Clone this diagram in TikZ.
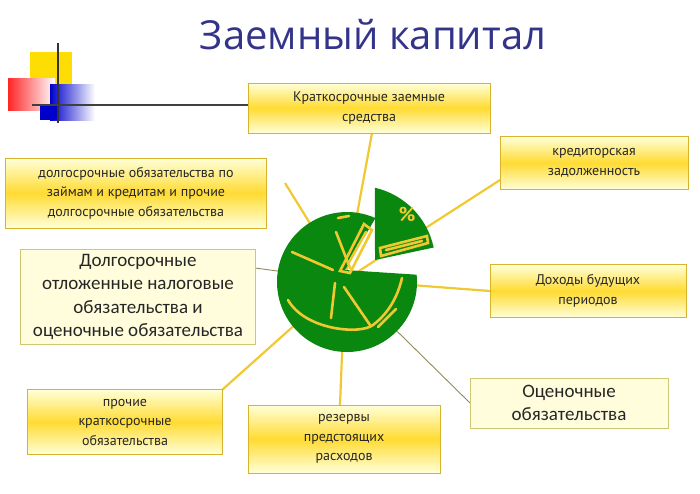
\documentclass[tikz,border=0pt]{standalone}
\usepackage{fontspec}
\setmainfont{PT Sans}
\newfontfamily\bigf{Carlito}
\newfontfamily\titlef{Open Sans}
\usetikzlibrary{shadings,calc}
\definecolor{pg}{HTML}{0A870F}
\definecolor{py}{HTML}{F0C832}
\definecolor{tb}{HTML}{33338A}
\tikzset{
 ybox/.style={draw=py!90!black, line width=1pt, top color=yellow!15, bottom color=yellow!15, middle color=yellow!65!orange!80, shading angle=0, align=center, font=\fontsize{14}{19.5}\selectfont, text=black!85, inner sep=0pt},
 pbox/.style={draw=olive!45, line width=0.8pt, fill=yellow!14, align=center, font=\bigf\fontsize{19}{23.5}\selectfont, text=black!85, inner sep=0pt},
 yline/.style={draw=py, line width=2.2pt},
 gline/.style={draw=olive!40!gray, line width=0.9pt},
 inl/.style={draw=py, line width=2.6pt, line cap=round},
}
\begin{document}
\begin{tikzpicture}[x=1pt,y=-1pt]
\useasboundingbox (0,0) rectangle (700,493);
% decoration
\fill[yellow!80!orange] (30,52) rectangle (72,92);
\shade[left color=red!85, right color=white] (8,78) rectangle (55,110);
\shade[left color=blue!80!black, right color=white] (50,84) rectangle (95,120);
\fill[blue!80!black] (40,105) rectangle (58,120);
\draw[line width=1.4pt, black!80] (58,43) -- (58,123);
\draw[line width=1.4pt, black!75] (32,105) -- (248,105);
\node[font=\titlef\fontsize{40}{44}\selectfont, text=tb] (title) at (373,35) {Заемный капитал};
% connectors (drawn first)
\coordinate (c) at (345,280);
\coordinate (e1) at (372,133);
\coordinate (e3) at (285,183);
\coordinate (e4) at (255,268);
\coordinate (e8) at (340,405);
\draw[yline] (c) -- (e1);
\draw[yline] (c) -- (500,180);
\draw[yline] (c) -- (e3);
\draw[gline] (c) -- (e4);
\draw[yline] (c) -- (490,291);
\draw[gline] (c) -- (470,403);
\draw[yline] (c) -- (222,390);
\draw[yline] (c) -- (e8);
% boxes
\node[ybox, minimum width=242, minimum height=50] (b1) at (369,108) {Краткосрочные заемные\\средства};
\node[ybox, minimum width=188, minimum height=53] (b2) at (594,163) {кредиторская\\задолженность};
\node[ybox, minimum width=261, minimum height=70] (b3) at (136,193) {долгосрочные обязательства по\\займам и кредитам и прочие\\долгосрочные обязательства};
\node[pbox, minimum width=235, minimum height=95] (b4) at (138,297) {Долгосрочные\\отложенные налоговые\\обязательства и\\оценочные обязательства};
\node[ybox, minimum width=196, minimum height=53] (b5) at (588,291) {Доходы будущих\\периодов};
\node[pbox, minimum width=198, minimum height=50] (b6) at (569,403) {Оценочные\\обязательства};
\node[ybox, minimum width=195, minimum height=65] (b7) at (125,422) {прочие\\краткосрочные\\обязательства};
\node[ybox, minimum width=192, minimum height=68] (b8) at (344,439) {резервы\\предстоящих\\расходов};
% pie
\fill[pg] (345,270) -- ($(347,282)+(-6:70)$) arc[start angle=-6, end angle=294, radius=70] -- cycle;
\fill[pg] (375,260) -- ++(-12:60) arc[start angle=-12, end angle=-77, radius=78] -- cycle;
% inner lines
\draw[inl] (338,218) -- (349,216);
\draw[inl] (336,232) -- (350,268);
\draw[inl] (292,252) -- (333,270);
\draw[inl] (335,283) -- (331,318);
\draw[inl] (344,287) -- (370,325);
\draw[inl] (340,271) -- (364,224) -- (372,230) -- (350,273) -- cycle;
\draw[inl] (348,264) -- (366,232);
\draw[inl] (288,300) .. controls (305,330) and (360,335) .. (373,325) .. controls (390,312) and (398,295) .. (402,278);
\draw[inl] (378,327) -- (396,309);
\draw[inl] (381,256) -- (428,243) -- (427,236) -- (380,248) -- cycle;
\draw[inl] (386,250) -- (422,241);
\node[font=\bfseries\fontsize{20}{20}\selectfont, text=py] (pct) at (407,214) {\%};
\end{tikzpicture}
\end{document}
